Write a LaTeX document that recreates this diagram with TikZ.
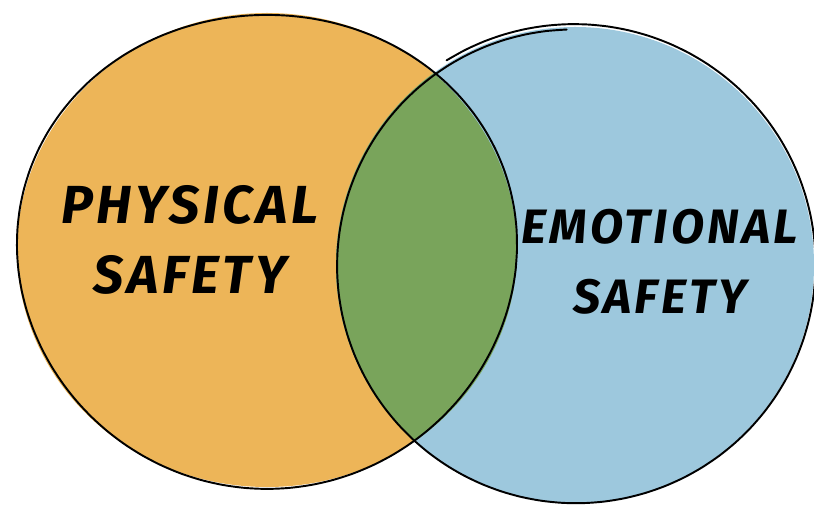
\documentclass[tikz,border=0pt]{standalone}
\usepackage{fontspec}
\newfontfamily\brush[LetterSpace=7]{Fira Sans}
\definecolor{physfill}{HTML}{EDB558}
\definecolor{emofill}{HTML}{9DC8DD}
\definecolor{bothfill}{HTML}{79A45B}
\tikzset{
  outline/.style={line width=1.1pt,black,line join=round,line cap=round},
  label/.style={font=\brush\bfseries\itshape\fontsize{#1}{40}\selectfont,align=center},
  label/.default=29
}
\def\physpath{(267,250) ellipse [x radius=250,y radius=237]}
\def\emopath{(575,265) ellipse [x radius=239,y radius=238]}
\begin{document}
\begin{tikzpicture}[x=0.02cm,y=-0.02cm]
  \useasboundingbox (0,0) rectangle (814,506);
  % washes
  \fill[physfill] \physpath;
  \fill[emofill] \emopath;
  \begin{scope}
    \clip \physpath;
    \fill[bothfill] \emopath;
  \end{scope}
  % pen lines
  \draw[outline] plot[smooth,domain=0:360,samples=73]
    ({267+250*(1+0.008*sin(3*\x))*cos(\x)},{250-237*(1+0.008*sin(3*\x))*sin(\x)});
  \draw[outline] plot[smooth,domain=92:482,samples=79]
    ({575+239*(1-0.01+0.024*(\x-92)/390)*cos(\x)},{265-238*(1-0.01+0.024*(\x-92)/390)*sin(\x)});
  % labels
  \node[label=30.5] (phys) at (190,240) {PHYSICAL\\SAFETY};
  \node[label=27.5] (emo) at (660,262) {EMOTIONAL\\SAFETY};
\end{tikzpicture}
\end{document}
